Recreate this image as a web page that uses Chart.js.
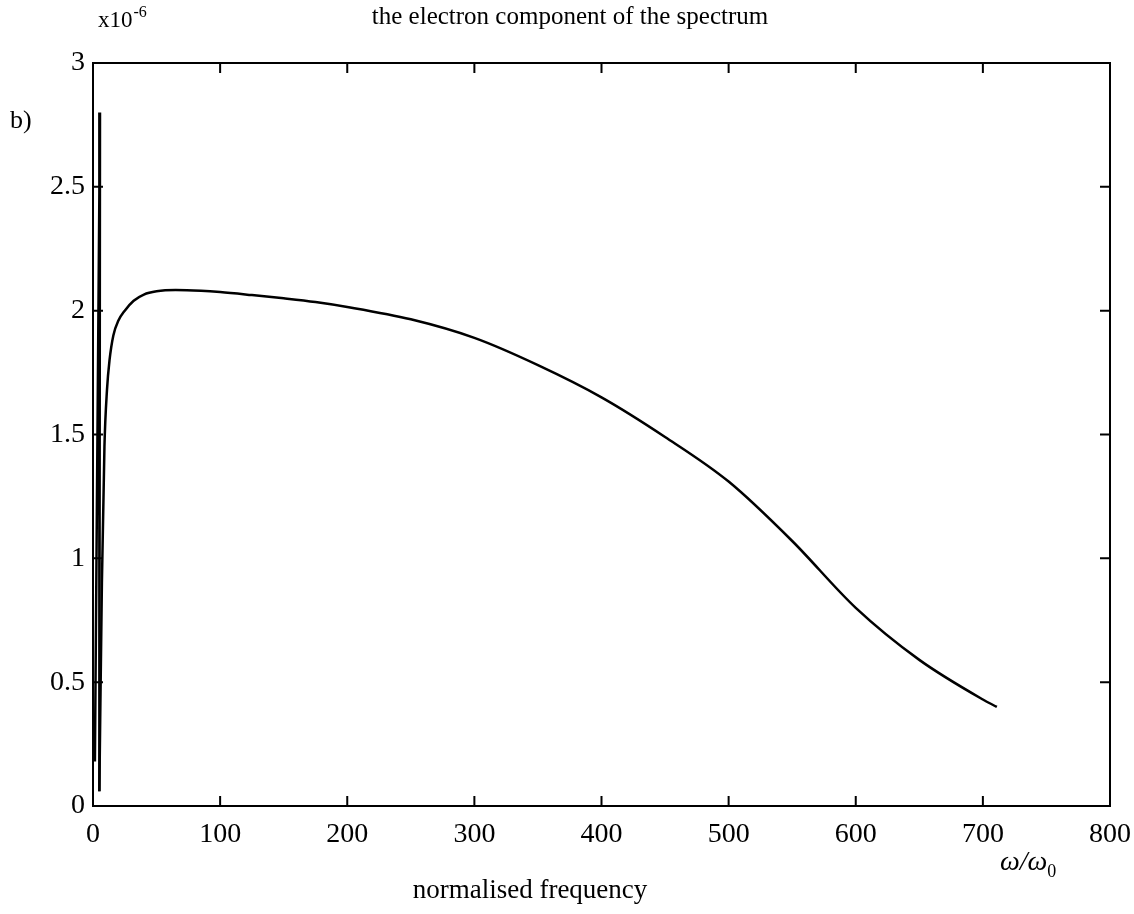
<!DOCTYPE html>
<html>
<head>
<meta charset="utf-8">
<script src="https://cdn.jsdelivr.net/npm/chart.js@4.4.1/dist/chart.umd.min.js"></script>
<style>
html,body{margin:0;padding:0;background:#fff;}
#wrap{width:1134px;height:914px;position:relative;}
</style>
</head>
<body>
<div id="wrap"><canvas id="c" width="1134" height="914"></canvas></div>
<script>
// Data (values in units of 1e-6)
const spikeX = [1.5, 5.5, 5];
const spikeY = [0.18, 2.8, 0.06];
const curveX = [5, 7, 9, 11, 13, 16, 20, 25, 32, 40, 50, 65, 85, 100, 125, 150, 175, 200, 250, 300, 350, 400, 450, 500, 550, 600, 650, 700, 711];
const curveY = [0.06, 0.9, 1.45, 1.68, 1.8, 1.9, 1.96, 2.0, 2.04, 2.065, 2.078, 2.083, 2.08, 2.075, 2.063, 2.05, 2.035, 2.015, 1.965, 1.89, 1.78, 1.65, 1.49, 1.31, 1.07, 0.80, 0.59, 0.43, 0.40];
const xTicks = [0, 100, 200, 300, 400, 500, 600, 700, 800];
const yTicks = [0, 0.5, 1, 1.5, 2, 2.5, 3];
const titleText = 'the electron component of the spectrum';
const xAxisTitle = 'normalised frequency';
const xUnitText = 'ω/ω';
const yExpText = 'x10';

const FONT = '"Liberation Serif", "DejaVu Serif", serif';

const toPts = (xs, ys) => xs.map((x, i) => ({x: x, y: ys[i]}));

const decor = {
  id: 'decor',
  afterDraw(chart) {
    const ctx = chart.ctx;
    const xs = chart.scales.x, ys = chart.scales.y;
    const a = chart.chartArea;
    ctx.save();
    ctx.strokeStyle = '#000';
    ctx.lineWidth = 2;
    ctx.strokeRect(a.left, a.top, a.right - a.left, a.bottom - a.top);
    const L = 10;
    ctx.beginPath();
    xTicks.forEach(v => {
      const p = xs.getPixelForValue(v);
      ctx.moveTo(p, a.bottom); ctx.lineTo(p, a.bottom - L);
      ctx.moveTo(p, a.top); ctx.lineTo(p, a.top + L);
    });
    yTicks.forEach(v => {
      const p = ys.getPixelForValue(v);
      ctx.moveTo(a.left, p); ctx.lineTo(a.left + L, p);
      ctx.moveTo(a.right, p); ctx.lineTo(a.right - L, p);
    });
    ctx.stroke();
    ctx.fillStyle = '#000';
    ctx.textBaseline = 'alphabetic';
    ctx.font = '25px ' + FONT;
    ctx.textAlign = 'center';
    ctx.fillText(titleText, 570, 24);
    ctx.font = '27px ' + FONT;
    ctx.fillText(xAxisTitle, 530, 898);
    ctx.textAlign = 'left';
    ctx.font = '23px ' + FONT;
    ctx.fillText(yExpText, 98, 27);
    const w1 = ctx.measureText(yExpText).width;
    ctx.font = '16px ' + FONT;
    ctx.fillText('-6', 98 + w1 + 1, 17);
    ctx.font = '26px ' + FONT;
    ctx.fillText('b)', 10, 128);
    ctx.font = 'italic 28px ' + FONT;
    ctx.fillText(xUnitText, 1000, 870);
    const w2 = ctx.measureText(xUnitText).width;
    ctx.font = '18px ' + FONT;
    ctx.fillText('0', 1000 + w2, 877);
    ctx.restore();
  }
};

new Chart(document.getElementById('c'), {
  type: 'scatter',
  data: {
    datasets: [
      {
        data: toPts(spikeX, spikeY),
        showLine: true,
        borderColor: '#000',
        borderWidth: 2.5,
        pointRadius: 0,
        tension: 0
      },
      {
        data: toPts(curveX, curveY),
        showLine: true,
        borderColor: '#000',
        borderWidth: 2.5,
        pointRadius: 0,
        cubicInterpolationMode: 'monotone'
      }
    ]
  },
  options: {
    responsive: false,
    animation: false,
    layout: { padding: { left: 0, top: 63, right: 24, bottom: 68 } },
    plugins: { legend: { display: false }, tooltip: { enabled: false } },
    scales: {
      x: {
        type: 'linear', min: 0, max: 800,
        afterBuildTicks: s => { s.ticks = xTicks.map(v => ({value: v})); },
        afterFit: s => { s.height = 40; s.paddingLeft = 0; s.paddingRight = 0; },
        grid: { display: false, drawTicks: false },
        border: { display: false },
        ticks: { color: '#000', font: { family: FONT, size: 28 }, padding: 12, maxRotation: 0,
                 callback: v => String(v) }
      },
      y: {
        type: 'linear', min: 0, max: 3,
        afterBuildTicks: s => { s.ticks = yTicks.map(v => ({value: v})); },
        afterFit: s => { s.width = 93; s.paddingTop = 0; s.paddingBottom = 0; },
        grid: { display: false, drawTicks: false },
        border: { display: false },
        ticks: { color: '#000', font: { family: FONT, size: 28 }, padding: 8,
                 callback: v => String(v) }
      }
    }
  },
  plugins: [decor]
});
</script>
</body>
</html>
